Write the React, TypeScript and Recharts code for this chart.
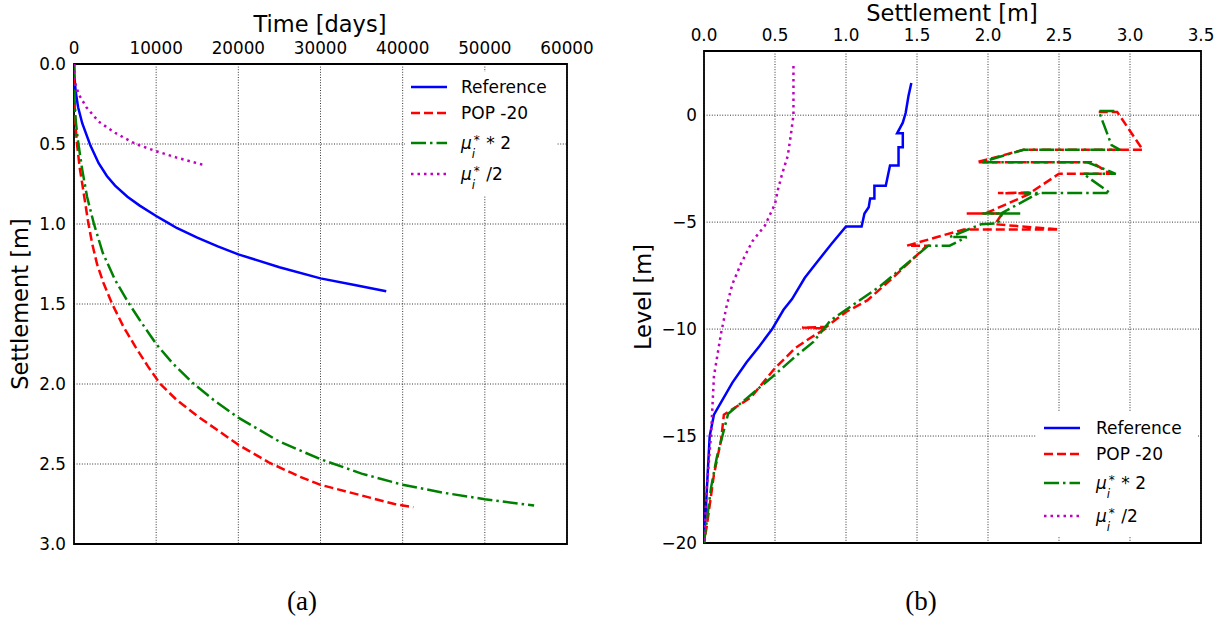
import React from 'react'
import {
  CartesianGrid, Legend, Line, LineChart, ReferenceArea, XAxis, YAxis,
} from 'recharts'

// ---- (a) settlement vs time: [time in days, settlement in m]
const timeReference: [number, number][] = [
  [0, 0], [50, 0.08], [200, 0.17], [500, 0.27], [1000, 0.37], [2000, 0.51], [3000, 0.62],
  [4000, 0.7], [5000, 0.76], [6500, 0.83], [8000, 0.885], [10000, 0.95], [11500, 0.995],
  [12500, 1.025], [15000, 1.085], [17500, 1.14], [20000, 1.19], [25000, 1.27], [30000, 1.34],
  [34000, 1.38], [38000, 1.42],
]
const timePop: [number, number][] = [
  [0, 0], [30, 0.15], [100, 0.3], [200, 0.4], [365, 0.5], [700, 0.65], [1100, 0.78],
  [1700, 0.98], [2200, 1.12], [2800, 1.25], [3600, 1.37], [4650, 1.5], [6000, 1.64],
  [7500, 1.77], [9000, 1.89], [10500, 2.0], [12500, 2.1], [15000, 2.2], [17500, 2.29],
  [20000, 2.38], [23700, 2.49], [27500, 2.58], [30000, 2.63], [33000, 2.67], [36000, 2.71],
  [39000, 2.75], [41300, 2.77],
]
const timeMuDouble: [number, number][] = [
  [0, 0], [50, 0.2], [200, 0.35], [480, 0.48], [1000, 0.66], [1590, 0.83], [2430, 1.0],
  [3500, 1.18], [5000, 1.35], [6600, 1.49], [8000, 1.6], [10000, 1.75], [12000, 1.87],
  [14600, 2.0], [17000, 2.1], [20000, 2.21], [25000, 2.36], [30000, 2.47], [35000, 2.56],
  [40000, 2.63], [45000, 2.68], [50000, 2.72], [56000, 2.76],
]
const timeMuHalf: [number, number][] = [
  [0, 0], [50, 0.1], [300, 0.15], [700, 0.2], [1500, 0.27], [3000, 0.36], [5000, 0.43],
  [7500, 0.5], [10000, 0.545], [12500, 0.585], [15700, 0.63],
]
const timeTicks = [0, 10000, 20000, 30000, 40000, 50000, 60000]
const settleTicks = [0, 0.5, 1, 1.5, 2, 2.5, 3]

// ---- (b) settlement profile: [settlement in m, level in m]
const profReference: [number, number][] = [
  [1.46, 1.5], [1.44, 0.9], [1.42, 0.1], [1.4, -0.35], [1.36, -0.85], [1.4, -0.85], [1.4, -1.5],
  [1.37, -1.5], [1.37, -2.35], [1.31, -2.35], [1.28, -3.3], [1.2, -3.3], [1.2, -3.9], [1.17, -3.9],
  [1.16, -4.3], [1.13, -4.6], [1.11, -5.2], [1.0, -5.2], [0.9, -6.0], [0.78, -7.0], [0.71, -7.6],
  [0.62, -8.6], [0.56, -9.1], [0.48, -10.0], [0.39, -10.8], [0.3, -11.55], [0.2, -12.5],
  [0.07, -14.0], [0.04, -15.0], [0.02, -17.5], [0.01, -18.8], [0, -20],
]
const profPop: [number, number][] = [
  [2.78, 0.15], [2.91, 0.15], [3.09, -1.62], [2.25, -1.62], [1.92, -2.2], [2.73, -2.2],
  [2.86, -2.74], [2.5, -2.74], [2.3, -3.62], [2.07, -3.64], [2.3, -3.66], [1.98, -4.6],
  [1.85, -4.6], [2.1, -4.6], [2.05, -5.1], [2.5, -5.34], [1.83, -5.34], [1.43, -6.1],
  [1.57, -6.1], [1.33, -7.6], [1.15, -8.66], [1.0, -9.2], [0.86, -9.9], [0.69, -9.93],
  [0.86, -9.96], [0.74, -10.45], [0.64, -10.9], [0.49, -11.9], [0.33, -13.2], [0.14, -14.0],
  [0.12, -15.2], [0.07, -16.8], [0.02, -19.2], [0, -20],
]
const profMuDouble: [number, number][] = [
  [2.89, 0.19], [2.78, 0.19], [2.87, -1.4], [2.93, -1.62], [2.25, -1.62], [1.95, -2.2],
  [2.7, -2.2], [2.9, -2.74], [2.67, -2.74], [2.86, -3.64], [2.25, -3.64], [2.34, -3.7],
  [2.09, -4.6], [1.96, -4.6], [2.24, -4.6], [2.1, -4.6], [2.07, -5.05], [1.95, -5.1],
  [1.73, -5.7], [1.85, -5.7], [1.73, -6.1], [1.58, -6.1], [1.24, -8.0], [0.89, -9.6],
  [0.77, -10.6], [0.64, -11.3], [0.48, -12.24], [0.17, -13.96], [0.09, -16], [0.05, -17.4],
  [0, -20],
]
const profMuHalf: [number, number][] = [
  [0.63, 2.3], [0.63, 1.0], [0.63, 0.0], [0.61, -1.0], [0.59, -1.9], [0.55, -2.75], [0.52, -3.5],
  [0.5, -4.15], [0.43, -5.15], [0.34, -5.9], [0.26, -6.95], [0.2, -7.9], [0.16, -8.9],
  [0.12, -10.2], [0.07, -12.2], [0.05, -14.9], [0.02, -17.4], [0, -20],
]
const profSettleTicks = [0, 0.5, 1, 1.5, 2, 2.5, 3, 3.5]
const levelTicks = [-20, -15, -10, -5, 0]

const FONT = '"DejaVu Sans", sans-serif'
const TICK = { fontSize: 16.8, fill: '#000', fontFamily: FONT }
const GRID = { stroke: '#000', strokeWidth: 0.8, strokeDasharray: '1 1.6' }

const SERIES = [
  { key: 'ref', color: '#0000ff', dash: undefined, width: 2.5 },
  { key: 'pop', color: '#ff0000', dash: '9 4', width: 2.5 },
  { key: 'mu2', color: '#008000', dash: '15 4 2.5 4', width: 2.5 },
  { key: 'muh', color: '#bf00bf', dash: '2.5 4', width: 2.5 },
]

const toPts = (arr: [number, number][], a: string, b: string) => arr.map(([x, y]) => ({ [a]: x, [b]: y }))
const minus = (v: number) => (v < 0 ? '\u2212' + Math.abs(v) : String(v))

function Mu({ tail }: { tail: string }) {
  return (
    <span>
      <span style={{ fontStyle: 'italic' }}>μ</span>
      <span style={{ position: 'relative', display: 'inline-block', width: 9, height: 10 }}>
        <span style={{ position: 'absolute', left: 2, top: -10, fontSize: 12 }}>*</span>
        <span style={{ position: 'absolute', left: 0, top: 4, fontSize: 12, fontStyle: 'italic' }}>i</span>
      </span>
      {tail}
    </span>
  )
}

const LABELS = [<span>Reference</span>, <span>POP -20</span>, <Mu tail=" * 2" />, <Mu tail=" /2" />]

function LegendBox({ rows, lineX, textX }: { rows: number[]; lineX: number; textX: number }) {
  return (
    <div style={{ position: 'relative', width: '100%', height: '100%', background: '#fff', fontFamily: FONT, fontSize: 17 }}>
      {SERIES.map((s, i) => (
        <div key={s.key} style={{ position: 'absolute', left: 0, top: rows[i] - 12, height: 24, width: '100%' }}>
          <svg width={lineX + 40} height={24} style={{ position: 'absolute', left: 0, top: 0 }}>
            <line x1={lineX} x2={lineX + 36} y1={12} y2={12} stroke={s.color} strokeWidth={s.width} strokeDasharray={s.dash} />
          </svg>
          <div style={{ position: 'absolute', left: textX, top: 1, lineHeight: '22px', whiteSpace: 'nowrap' }}>{LABELS[i]}</div>
        </div>
      ))}
    </div>
  )
}

function TimeChart() {
  const sets = [timeReference, timePop, timeMuDouble, timeMuHalf]
  return (
    <LineChart width={600} height={600} margin={{ top: 20, right: 33, bottom: 56, left: 14 }}>
      <CartesianGrid {...GRID} />
      <XAxis dataKey="t" type="number" orientation="top" domain={[0, 60000]} ticks={timeTicks} interval={0}
        tick={TICK} tickLine={false} tickSize={4} tickMargin={6} height={44} axisLine={false} allowDataOverflow />
      <YAxis dataKey="s" type="number" domain={[0, 3]} reversed ticks={settleTicks} interval={0}
        tickFormatter={(v: number) => v.toFixed(1)} tick={TICK} tickLine={false} tickSize={4} tickMargin={4} width={60} axisLine={false} />
      {SERIES.map((s, i) => (
        <Line key={s.key} data={toPts(sets[i], 't', 's')} dataKey="s" type="linear" stroke={s.color} strokeWidth={s.width}
          strokeDasharray={s.dash} dot={false} activeDot={false} isAnimationActive={false} />
      ))}
      <ReferenceArea x1={0} x2={60000} y1={0} y2={3} fill="none" stroke="#000" strokeWidth={1.8} ifOverflow="visible" />
      <Legend layout="vertical" align="center" verticalAlign="middle"
        wrapperStyle={{ left: 405, top: 72, width: 152, height: 124 }}
        content={() => <LegendBox rows={[15, 41, 71, 102]} lineX={6} textX={56} />} />
    </LineChart>
  )
}

function ProfileChart() {
  const sets = [profReference, profPop, profMuDouble, profMuHalf]
  return (
    <LineChart width={603} height={600} margin={{ top: 16, right: 22, bottom: 57, left: 24 }}>
      <CartesianGrid {...GRID} />
      <XAxis dataKey="s" type="number" orientation="top" domain={[0, 3.5]} ticks={profSettleTicks} interval={0}
        tickFormatter={(v: number) => v.toFixed(1)} tick={TICK} tickLine={false} tickSize={4} tickMargin={6} height={35} axisLine={false} allowDataOverflow />
      <YAxis dataKey="z" type="number" domain={[-20, 3]} ticks={levelTicks} interval={0} tickFormatter={minus}
        tick={TICK} tickLine={false} tickSize={4} tickMargin={3} width={60} axisLine={false} allowDataOverflow />
      {SERIES.map((s, i) => (
        <Line key={s.key} data={toPts(sets[i], 's', 'z')} dataKey="z" type="linear" stroke={s.color} strokeWidth={s.width}
          strokeDasharray={s.dash} dot={false} activeDot={false} isAnimationActive={false} />
      ))}
      <ReferenceArea x1={0} x2={3.5} y1={-20} y2={3} fill="none" stroke="#000" strokeWidth={1.8} ifOverflow="visible" />
      <Legend layout="vertical" align="center" verticalAlign="middle"
        wrapperStyle={{ left: 416, top: 412, width: 162, height: 124 }}
        content={() => <LegendBox rows={[16, 42, 71, 104]} lineX={8} textX={60} />} />
    </LineChart>
  )
}

const title = (x: number, y: number, rotate = false): React.CSSProperties => ({
  position: 'absolute', left: x, top: y, transform: `translate(-50%, -50%)${rotate ? ' rotate(-90deg)' : ''}`,
  fontFamily: FONT, fontSize: 22.5, whiteSpace: 'nowrap', lineHeight: 1,
})

export default function App() {
  return (
    <div style={{ position: 'absolute', left: 0, top: 0, width: 1223, height: 621, background: '#fff', overflow: 'hidden' }}>
      <div style={{ position: 'absolute', left: 0, top: 0 }}><TimeChart /></div>
      <div style={{ position: 'absolute', left: 620, top: 0 }}><ProfileChart /></div>
      <div style={title(320, 24)}>Time [days]</div>
      <div style={title(20, 304, true)}>Settlement [m]</div>
      <div style={title(952, 13)}>Settlement [m]</div>
      <div style={title(643, 297, true)}>Level [m]</div>
      <div style={{ ...title(302, 601), fontFamily: '"Liberation Serif", serif', fontSize: 27 }}>(a)</div>
      <div style={{ ...title(921, 601), fontFamily: '"Liberation Serif", serif', fontSize: 27 }}>(b)</div>
    </div>
  )
}
